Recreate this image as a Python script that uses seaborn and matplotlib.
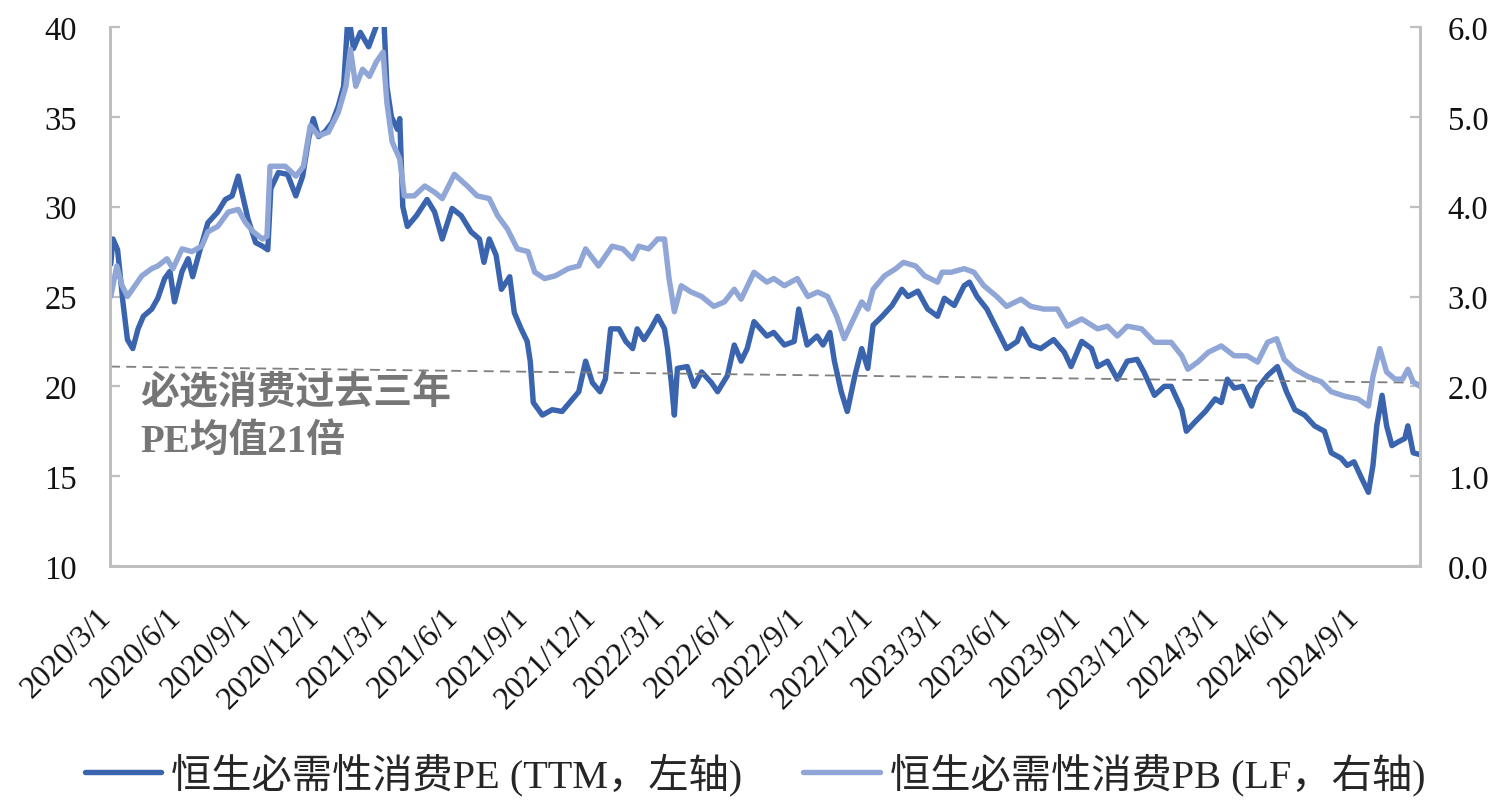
import pandas as pd
import matplotlib
matplotlib.use("Agg")
import matplotlib.pyplot as plt
import matplotlib.transforms as mtransforms
import seaborn as sns

# ---- data -------------------------------------------------------------
pe_dates = [
    "2020-03-02", "2020-03-05", "2020-03-11", "2020-03-18", "2020-03-24", "2020-03-31",
    "2020-04-07", "2020-04-14", "2020-04-25", "2020-05-03", "2020-05-12", "2020-05-19",
    "2020-05-25", "2020-06-04", "2020-06-12", "2020-06-18", "2020-06-27", "2020-07-08",
    "2020-07-21", "2020-07-31", "2020-08-09", "2020-08-17", "2020-08-24", "2020-08-30",
    "2020-09-09", "2020-09-18", "2020-09-25", "2020-09-29", "2020-10-09", "2020-10-21",
    "2020-11-01", "2020-11-10", "2020-11-18", "2020-11-24", "2020-12-01", "2020-12-10",
    "2020-12-19", "2020-12-27", "2021-01-03", "2021-01-09", "2021-01-16", "2021-01-25",
    "2021-02-05", "2021-02-12", "2021-02-19", "2021-02-25", "2021-03-01", "2021-03-07",
    "2021-03-15", "2021-03-18", "2021-03-22", "2021-03-28", "2021-04-09", "2021-04-23",
    "2021-05-03", "2021-05-13", "2021-05-26", "2021-06-07", "2021-06-20", "2021-07-01",
    "2021-07-07", "2021-07-14", "2021-07-23", "2021-07-30", "2021-08-10", "2021-08-16",
    "2021-08-25", "2021-09-02", "2021-09-06", "2021-09-10", "2021-09-22", "2021-10-05",
    "2021-10-18", "2021-11-01", "2021-11-09", "2021-11-18", "2021-11-27", "2021-12-07",
    "2021-12-14", "2021-12-21", "2022-01-01", "2022-01-10", "2022-01-19", "2022-01-25",
    "2022-02-03", "2022-02-12", "2022-02-21", "2022-03-02", "2022-03-06", "2022-03-11",
    "2022-03-15", "2022-03-19", "2022-04-01", "2022-04-10", "2022-04-20", "2022-05-03",
    "2022-05-11", "2022-05-24", "2022-06-02", "2022-06-11", "2022-06-19", "2022-06-28",
    "2022-07-15", "2022-07-24", "2022-08-07", "2022-08-20", "2022-08-26", "2022-09-06",
    "2022-09-19", "2022-09-27", "2022-10-06", "2022-10-12", "2022-10-21", "2022-10-29",
    "2022-11-08", "2022-11-17", "2022-11-25", "2022-12-02", "2022-12-14", "2022-12-27",
    "2023-01-09", "2023-01-17", "2023-01-30", "2023-02-12", "2023-02-25", "2023-03-06",
    "2023-03-19", "2023-04-01", "2023-04-08", "2023-04-18", "2023-05-01", "2023-05-14",
    "2023-05-27", "2023-06-10", "2023-06-16", "2023-06-28", "2023-07-11", "2023-07-28",
    "2023-08-11", "2023-08-20", "2023-09-03", "2023-09-16", "2023-09-24", "2023-10-07",
    "2023-10-20", "2023-11-02", "2023-11-15", "2023-11-24", "2023-12-08", "2023-12-21",
    "2023-12-30", "2024-01-13", "2024-01-19", "2024-01-30", "2024-02-13", "2024-02-26",
    "2024-03-05", "2024-03-13", "2024-03-22", "2024-04-02", "2024-04-14", "2024-04-22",
    "2024-05-05", "2024-05-18", "2024-05-30", "2024-06-10", "2024-06-23", "2024-07-06",
    "2024-07-19", "2024-07-28", "2024-08-10", "2024-08-18", "2024-08-27", "2024-09-07",
    "2024-09-15", "2024-09-21", "2024-09-26", "2024-10-03", "2024-10-09", "2024-10-16",
    "2024-10-24", "2024-11-02", "2024-11-06", "2024-11-13", "2024-11-22",
]
pe_values = [
    26.8, 28.2, 27.6, 24.7, 22.6, 22.1,
    23.2, 23.9, 24.3, 24.9, 26.0, 26.4,
    24.7, 26.4, 27.1, 26.1, 27.5, 29.1,
    29.7, 30.4, 30.6, 31.7, 30.4, 29.3,
    28.0, 27.8, 27.6, 31.0, 31.9, 31.8,
    30.6, 31.7, 33.8, 34.9, 33.9, 34.2,
    34.7, 35.6, 36.7, 40.8, 38.8, 39.7,
    38.9, 39.7, 40.5, 40.5, 36.7, 35.0,
    34.3, 34.9, 30.0, 28.9, 29.5, 30.4,
    29.7, 28.2, 29.9, 29.5, 28.6, 28.2,
    26.9, 28.2, 27.3, 25.4, 26.1, 24.1,
    23.2, 22.5, 21.4, 19.1, 18.4, 18.7,
    18.6, 19.3, 19.7, 21.4, 20.2, 19.7,
    20.4, 23.2, 23.2, 22.5, 22.1, 23.2,
    22.6, 23.2, 23.9, 23.2, 22.1, 20.2,
    18.4, 21.0, 21.1, 20.0, 20.8, 20.2,
    19.7, 20.6, 22.3, 21.4, 22.1, 23.6,
    22.8, 23.0, 22.3, 22.5, 24.3, 22.3,
    22.8, 22.3, 23.0, 21.4, 19.7, 18.6,
    20.6, 22.1, 21.0, 23.4, 23.9, 24.5,
    25.4, 25.0, 25.3, 24.3, 23.9, 24.9,
    24.5, 25.6, 25.8, 25.0, 24.3, 23.2,
    22.1, 22.5, 23.2, 22.3, 22.1, 22.6,
    21.9, 21.1, 22.5, 22.1, 21.1, 21.4,
    20.4, 21.4, 21.5, 20.8, 19.5, 20.0,
    20.0, 18.7, 17.5, 18.0, 18.6, 19.3,
    19.1, 20.4, 19.9, 20.0, 18.9, 19.9,
    20.6, 21.1, 19.7, 18.7, 18.4, 17.8,
    17.5, 16.3, 16.0, 15.6, 15.8, 14.8,
    14.1, 15.6, 17.8, 19.5, 17.8, 16.7,
    16.9, 17.1, 17.8, 16.3, 16.2,
]

pb_dates = [
    "2020-03-02", "2020-03-10", "2020-03-17", "2020-03-24", "2020-04-03", "2020-04-12",
    "2020-04-25", "2020-05-03", "2020-05-15", "2020-05-23", "2020-06-04", "2020-06-17",
    "2020-06-30", "2020-07-08", "2020-07-21", "2020-08-04", "2020-08-17", "2020-08-26",
    "2020-09-06", "2020-09-18", "2020-09-24", "2020-09-28", "2020-10-05", "2020-10-18",
    "2020-11-01", "2020-11-11", "2020-11-20", "2020-12-01", "2020-12-14", "2020-12-27",
    "2021-01-06", "2021-01-12", "2021-01-19", "2021-01-28", "2021-02-06", "2021-02-15",
    "2021-02-24", "2021-03-01", "2021-03-08", "2021-03-18", "2021-03-24", "2021-04-06",
    "2021-04-20", "2021-05-03", "2021-05-13", "2021-05-29", "2021-06-15", "2021-06-28",
    "2021-07-14", "2021-07-25", "2021-08-07", "2021-08-20", "2021-09-03", "2021-09-12",
    "2021-09-25", "2021-10-09", "2021-10-26", "2021-11-09", "2021-11-18", "2021-12-05",
    "2021-12-23", "2022-01-06", "2022-01-19", "2022-01-27", "2022-02-09", "2022-02-21",
    "2022-03-02", "2022-03-08", "2022-03-15", "2022-03-24", "2022-04-06", "2022-04-20",
    "2022-05-06", "2022-05-20", "2022-06-02", "2022-06-11", "2022-06-28", "2022-07-15",
    "2022-07-24", "2022-08-07", "2022-08-24", "2022-09-07", "2022-09-20", "2022-10-03",
    "2022-10-15", "2022-10-25", "2022-11-04", "2022-11-17", "2022-11-25", "2022-12-02",
    "2022-12-17", "2023-01-01", "2023-01-11", "2023-01-27", "2023-02-08", "2023-02-25",
    "2023-03-03", "2023-03-15", "2023-04-01", "2023-04-14", "2023-04-27", "2023-05-14",
    "2023-05-27", "2023-06-15", "2023-06-28", "2023-07-15", "2023-08-02", "2023-08-15",
    "2023-09-03", "2023-09-24", "2023-10-07", "2023-10-20", "2023-11-02", "2023-11-21",
    "2023-12-08", "2023-12-30", "2024-01-13", "2024-01-21", "2024-02-03", "2024-02-17",
    "2024-03-05", "2024-03-22", "2024-04-08", "2024-04-22", "2024-05-05", "2024-05-17",
    "2024-05-27", "2024-06-10", "2024-06-27", "2024-07-15", "2024-07-28", "2024-08-15",
    "2024-09-01", "2024-09-15", "2024-09-21", "2024-09-30", "2024-10-09", "2024-10-20",
    "2024-10-30", "2024-11-06", "2024-11-13", "2024-11-22",
]
pb_values = [
    3.00, 3.34, 3.12, 3.00, 3.12, 3.23,
    3.31, 3.34, 3.42, 3.31, 3.53, 3.50,
    3.56, 3.72, 3.78, 3.94, 3.97, 3.83,
    3.72, 3.64, 3.67, 4.45, 4.45, 4.45,
    4.34, 4.45, 4.90, 4.79, 4.83, 5.05,
    5.34, 5.75, 5.34, 5.53, 5.45, 5.61,
    5.72, 5.16, 4.72, 4.53, 4.12, 4.12,
    4.23, 4.16, 4.09, 4.36, 4.23, 4.12,
    4.09, 3.90, 3.75, 3.53, 3.50, 3.27,
    3.20, 3.23, 3.31, 3.34, 3.53, 3.34,
    3.56, 3.53, 3.42, 3.56, 3.53, 3.64,
    3.64, 3.20, 2.83, 3.12, 3.05, 3.00,
    2.89, 2.94, 3.08, 2.97, 3.27, 3.16,
    3.20, 3.12, 3.20, 3.00, 3.05, 3.00,
    2.78, 2.53, 2.71, 2.94, 2.86, 3.08,
    3.23, 3.31, 3.38, 3.34, 3.23, 3.16,
    3.27, 3.27, 3.31, 3.27, 3.12, 3.00,
    2.89, 2.97, 2.89, 2.86, 2.86, 2.67,
    2.75, 2.64, 2.67, 2.56, 2.67, 2.64,
    2.49, 2.49, 2.34, 2.19, 2.27, 2.38,
    2.45, 2.34, 2.34, 2.27, 2.49, 2.53,
    2.30, 2.19, 2.11, 2.05, 1.94, 1.89,
    1.86, 1.78, 2.11, 2.42, 2.16, 2.08,
    2.08, 2.19, 2.05, 2.00,
]

# three-year average PE reference line (end points)
avg_dates = ["2020-03-01", "2024-11-22"]
avg_values = [21.1, 20.2]

tick_dates = [
    "2020-03-01", "2020-06-01", "2020-09-01", "2020-12-01", "2021-03-01",
    "2021-06-01", "2021-09-01", "2021-12-01", "2022-03-01", "2022-06-01",
    "2022-09-01", "2022-12-01", "2023-03-01", "2023-06-01", "2023-09-01",
    "2023-12-01", "2024-03-01", "2024-06-01", "2024-09-01",
]
tick_labels = [
    "2020/3/1", "2020/6/1", "2020/9/1", "2020/12/1", "2021/3/1",
    "2021/6/1", "2021/9/1", "2021/12/1", "2022/3/1", "2022/6/1",
    "2022/9/1", "2022/12/1", "2023/3/1", "2023/6/1", "2023/9/1",
    "2023/12/1", "2024/3/1", "2024/6/1", "2024/9/1",
]
left_ticks = [10, 15, 20, 25, 30, 35, 40]
left_labels = ["10", "15", "20", "25", "30", "35", "40"]
right_ticks = [0, 1, 2, 3, 4, 5, 6]
right_labels = ["0.0", "1.0", "2.0", "3.0", "4.0", "5.0", "6.0"]

pe_name = "恒生必需性消费PE (TTM，左轴)"
pb_name = "恒生必需性消费PB (LF，右轴)"
note_text = "必选消费过去三年\nPE均值21倍"

# ---- style ------------------------------------------------------------
sns.set_style("white")
plt.rcParams["font.family"] = ["Liberation Serif", "Noto Sans CJK SC"]

PE_COLOR = "#3A64AE"
PB_COLOR = "#8FA6D7"
AXIS_GRAY = "#BFBFBF"

pe_df = pd.DataFrame({"date": pd.to_datetime(pe_dates), "value": pe_values})
pb_df = pd.DataFrame({"date": pd.to_datetime(pb_dates), "value": pb_values})
avg_df = pd.DataFrame({"date": pd.to_datetime(avg_dates), "value": avg_values})

fig = plt.figure(figsize=(15.01, 8.04), dpi=100)
ax = fig.add_axes([110 / 1501, 1 - 567 / 804, 1310 / 1501, 539 / 804])
ax2 = ax.twinx()

sns.lineplot(data=pe_df, x="date", y="value", ax=ax, color=PE_COLOR,
             linewidth=3.9, estimator=None, label=pe_name, legend=False)
sns.lineplot(data=avg_df, x="date", y="value", ax=ax, color="#7F7F7F",
             linewidth=1.3, linestyle=(0, (5.5, 3.5)), estimator=None, legend=False)
sns.lineplot(data=pb_df, x="date", y="value", ax=ax2, color=PB_COLOR,
             linewidth=3.9, estimator=None, label=pb_name, legend=False)

ax.set_xlim(pd.Timestamp("2020-03-01"), pd.Timestamp("2024-11-22"))
ax.set_ylim(10, 40)
ax2.set_ylim(0, 6)

ax.set_xticks(pd.to_datetime(tick_dates))
ax.set_xticklabels(tick_labels, rotation=45, ha="right", va="top")
ax.set_yticks(left_ticks)
ax.set_yticklabels(left_labels)
ax2.set_yticks(right_ticks)
ax2.set_yticklabels(right_labels)

for a in (ax, ax2):
    a.set_xlabel("")
    a.set_ylabel("")
    for side in ("left", "right", "bottom"):
        a.spines[side].set_color(AXIS_GRAY)
        a.spines[side].set_linewidth(2)
    a.spines["top"].set_visible(False)

ax.tick_params(axis="x", direction="in", length=7, width=1.6, color=AXIS_GRAY,
               labelsize=23, pad=26, labelcolor="#111111")
ax.tick_params(axis="y", direction="in", length=7, width=1.6, color=AXIS_GRAY,
               labelsize=23.5, pad=24, labelcolor="#111111")
ax2.tick_params(axis="y", direction="in", length=7, width=1.6, color=AXIS_GRAY,
                labelsize=23.5, pad=20, labelcolor="#111111")

shift = mtransforms.ScaledTranslation(7 / 100, 0, fig.dpi_scale_trans)
for lbl in ax.get_xticklabels():
    lbl.set_transform(lbl.get_transform() + shift)

ax.text(0.023, 0.355, note_text, transform=ax.transAxes, ha="left", va="top",
        fontsize=28, fontweight="bold", color="#767676", linespacing=1.4)

handles = ax.get_lines()[:1] + ax2.get_lines()[:1]
fig.legend(handles, [pe_name, pb_name], loc="center", ncol=2, frameon=False,
           bbox_to_anchor=(0.503, 0.036), fontsize=29, handlelength=1.9,
           handletextpad=0.25, columnspacing=1.5)

fig.savefig("out.png", dpi=100)
